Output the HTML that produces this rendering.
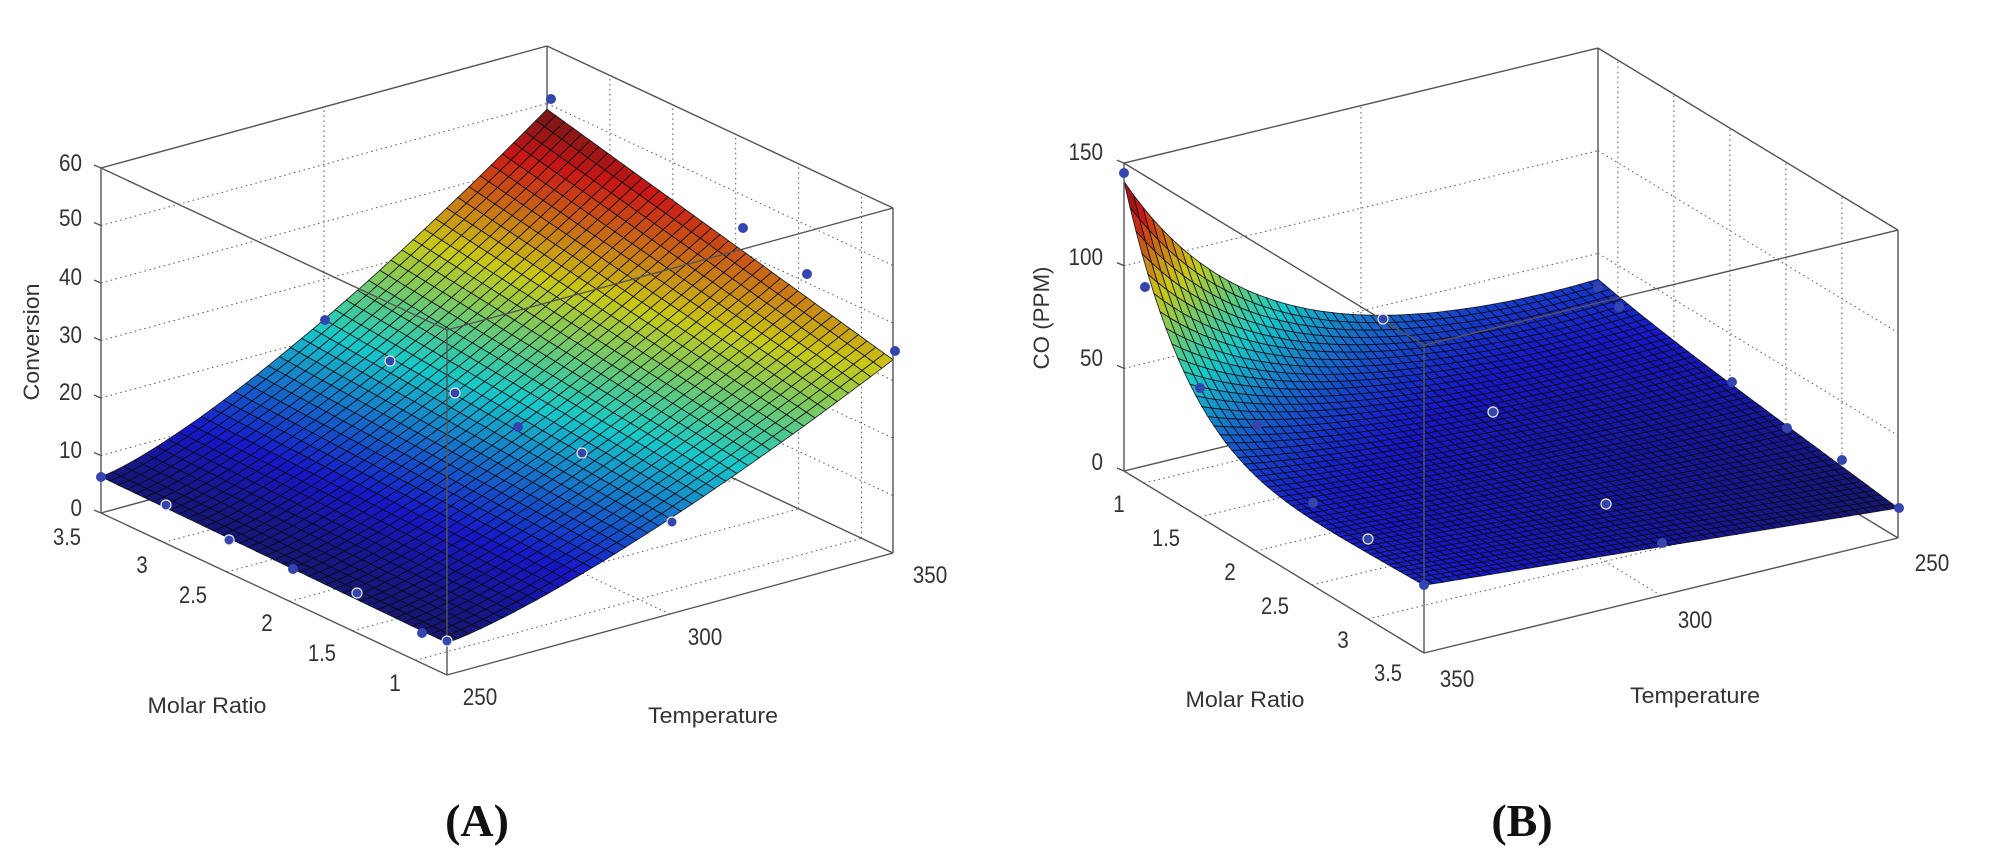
<!DOCTYPE html>
<html><head><meta charset="utf-8">
<style>
html,body{margin:0;padding:0;background:#fff;}
svg{display:block;}
.t{font-family:"Liberation Sans",sans-serif;fill:#333;}
.g{stroke:#555;stroke-width:1;stroke-dasharray:1.5 3.5;fill:none;}
.b{stroke:#555;stroke-width:1.4;fill:none;}
</style></head>
<body>
<svg id="s" width="1990" height="860" viewBox="0 0 1990 860" xmlns="http://www.w3.org/2000/svg"></svg>
<script>
(function(){
var out=[];
function jet(x){x=Math.max(0,Math.min(1,x));function c(v){v=Math.max(0,Math.min(1,v));return Math.round(255*v*0.7+22);}
return 'rgb('+c(1.5-Math.abs(4*x-3))+','+c(1.5-Math.abs(4*x-2))+','+c(1.5-Math.abs(4*x-1))+')';}
function L(a,b,cls){out.push('<line class="'+cls+'" x1="'+a[0].toFixed(1)+'" y1="'+a[1].toFixed(1)+'" x2="'+b[0].toFixed(1)+'" y2="'+b[1].toFixed(1)+'"/>');}
function T(x,y,s,fs,len,anchor,extra){out.push('<text class="t" x="'+x+'" y="'+y+'" font-size="'+fs+'" text-anchor="'+(anchor||'middle')+'"'+(len?' textLength="'+len+'" lengthAdjust="spacingAndGlyphs"':'')+(extra||'')+'>'+s+'</text>');}
function tl(s){var n=0;for(var i=0;i<s.length;i++)n+=(s[i]=='.')?5:11.5;return n;}
function dot(p,w){out.push('<circle cx="'+p[0]+'" cy="'+p[1]+'" r="5" fill="#3445ad"'+(w?' stroke="#e8e8f0" stroke-width="1.2"':'')+'/>');}

function chart(F,V1,V2,ZS,ZMAX,zticks,zf,cmin,cmax,N1,N2,gr1,gr2){
  function P(a,b,z){return [F[0]+a*V1[0]+b*V2[0],F[1]+a*V1[1]+b*V2[1]-z*ZS];}
  zticks.forEach(function(z){L(P(0,1,z),P(1,1,z),'g');L(P(1,1,z),P(1,0,z),'g');});
  gr1.forEach(function(a){L(P(a,1,0),P(a,1,ZMAX),'g');L(P(a,0,0),P(a,1,0),'g');});
  gr2.forEach(function(b){L(P(1,b,0),P(1,b,ZMAX),'g');L(P(0,b,0),P(1,b,0),'g');});
  L(P(0,1,0),P(1,1,0),'b');L(P(1,1,0),P(1,0,0),'b');L(P(1,1,0),P(1,1,ZMAX),'b');
  L(P(0,1,ZMAX),P(1,1,ZMAX),'b');L(P(1,1,ZMAX),P(1,0,ZMAX),'b');
  L(P(0,0,0),P(0,1,0),'b');L(P(0,0,0),P(1,0,0),'b');
  var faces=[];
  for(var i=0;i<N1;i++)for(var j=0;j<N2;j++){
    var a0=i/N1,a1=(i+1)/N1,b0=j/N2,b1=(j+1)/N2;
    var z00=zf(a0,b0),z10=zf(a1,b0),z11=zf(a1,b1),z01=zf(a0,b1);
    var zm=(z00+z10+z11+z01)/4;
    var pts=[P(a0,b0,z00),P(a1,b0,z10),P(a1,b1,z11),P(a0,b1,z01)];
    faces.push({d:a0+b0,pts:pts,c:jet((zm-cmin)/(cmax-cmin))});
  }
  faces.sort(function(x,y){return y.d-x.d;});
  faces.forEach(function(f){out.push('<polygon points="'+f.pts.map(function(p){return p[0].toFixed(1)+','+p[1].toFixed(1);}).join(' ')+'" fill="'+f.c+'" stroke="#0a0a10" stroke-opacity="0.85" stroke-width="0.9"/>');});
  L(P(0,1,0),P(0,1,ZMAX),'b');L(P(1,0,0),P(1,0,ZMAX),'b');L(P(0,0,0),P(0,0,ZMAX),'b');
  L(P(0,1,ZMAX),P(0,0,ZMAX),'b');L(P(0,0,ZMAX),P(1,0,ZMAX),'b');
  zticks.forEach(function(z){var p=P(0,1,z);L(p,[p[0]-7,p[1]-3],'b');});
  return P;
}

chart([447,675],[446,-122],[-346,-162],5.75,60,[0,10,20,30,40,50,60],
  function(t,m){return (5.6+0.7*m)+(28+14.7*m)*Math.pow(t,1.35);},5.6,49,40,40,
  [0.5],[1,1.5,2,2.5,3].map(function(M){return (M-0.75)/2.75;}));
chart([1424,653],[474,-115],[-300,-182],2.053,150,[0,50,100,150],
  function(s,w){return 33*(1-s)*(1-w)+28*(1-s)*w+14.6*s*(1-w)+28*s*w+6*Math.pow(s,4)*w+113*Math.exp(-3.5*s)*Math.pow(w,5);},14.6,141,50,50,
  [0.5],[1,1.5,2,2.5,3].map(function(M){return (1424-(1137+(M-1)*112))/300-0.023;}));

[[551,99],[743,228],[807,274],[895,351],[325,320],[518,427],[101,477],[293,569],[422,633]].forEach(function(p){dot(p,false);});
[[455,393],[390,361],[166,505],[229,540],[357,593],[447,641],[582,453],[672,522]].forEach(function(p){dot(p,true);});
[[1124,173],[1145,287],[1200,388],[1257,425],[1598,287],[1619,307],[1732,382],[1787,428],[1842,460],[1313,503],[1424,585],[1662,543],[1899,508]].forEach(function(p){dot(p,false);});
[[1383,319],[1493,412],[1368,539],[1606,504]].forEach(function(p){dot(p,true);});

[[60,168],[50,223],[40,282],[30,340],[20,397],[10,455],[0,513]].forEach(function(a){var s=''+a[0];T(82,a[1]+3,s,24,tl(s),'end');});
[['3.5',67,537],['3',142,565],['2.5',193,595],['2',267,623],['1.5',322,653],['1',395,683]].forEach(function(a){T(a[1],a[2]+8,a[0],24,tl(a[0]));});
[['250',480,697],['300',705,637],['350',930,575]].forEach(function(a){T(a[1],a[2]+8,a[0],24,tl(a[0]));});
T(207,713,'Molar Ratio',22,119);
T(713,723,'Temperature',22,130);
T(32,342,'Conversion',22,117,'middle',' transform="rotate(-90 32 342)" dy="7"');
out.push('<text x="477" y="836" font-family="Liberation Serif,serif" font-weight="bold" font-size="46" text-anchor="middle" fill="#111">(A)</text>');
[['150',152],['100',257],['50',358],['0',462]].forEach(function(a){T(1103,a[1]+8,a[0],24,tl(a[0]),'end');});
[['1',1119,504],['1.5',1166,538],['2',1230,572],['2.5',1275,606],['3',1343,640],['3.5',1388,673]].forEach(function(a){T(a[1],a[2]+8,a[0],24,tl(a[0]));});
[['350',1457,679],['300',1695,620],['250',1932,563]].forEach(function(a){T(a[1],a[2]+8,a[0],24,tl(a[0]));});
T(1245,707,'Molar Ratio',22,119);
T(1695,703,'Temperature',22,130);
T(1042,318,'CO (PPM)',22,103,'middle',' transform="rotate(-90 1042 318)" dy="7"');
out.push('<text x="1522" y="836" font-family="Liberation Serif,serif" font-weight="bold" font-size="46" text-anchor="middle" fill="#111">(B)</text>');

document.getElementById('s').innerHTML=out.join('');
})();
</script>
</body></html>
